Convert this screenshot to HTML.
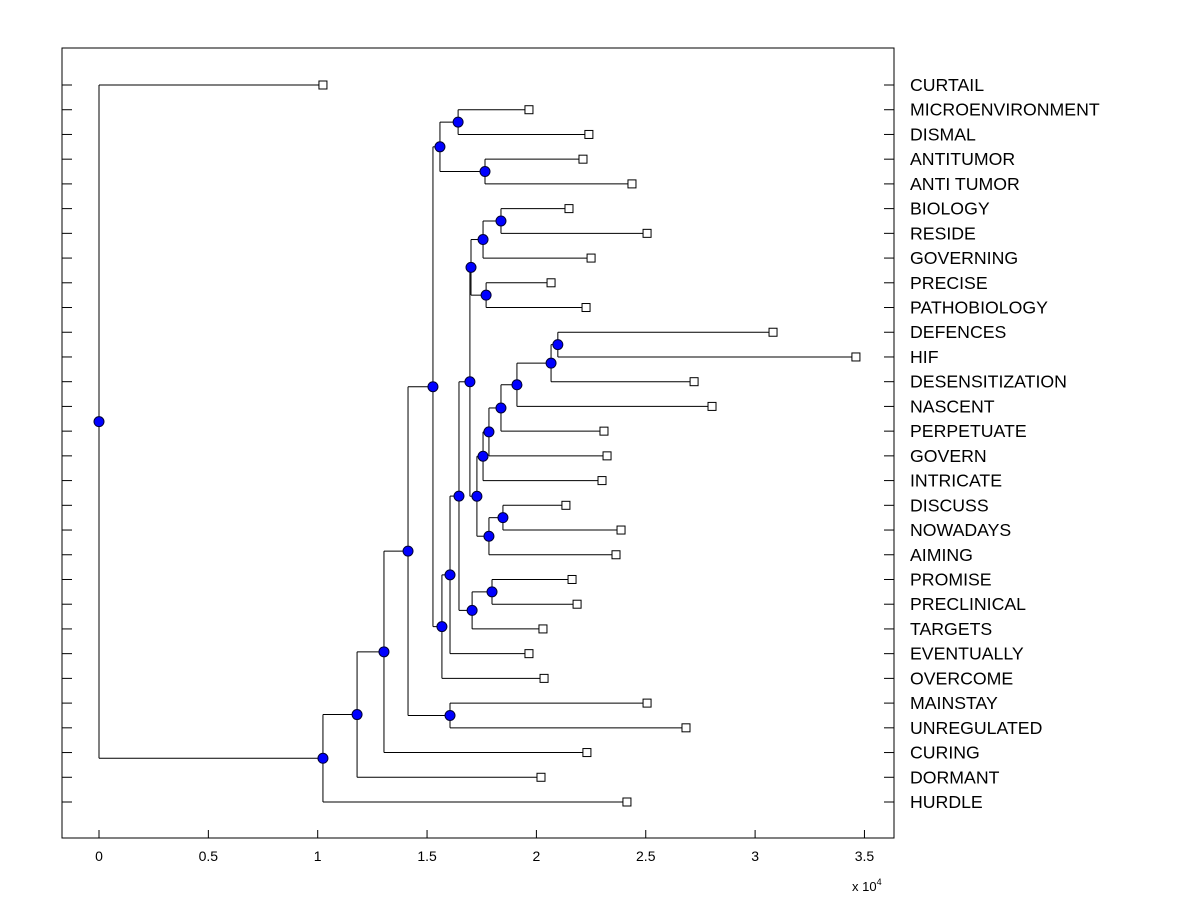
<!DOCTYPE html>
<html><head><meta charset="utf-8"><style>
body{margin:0;background:#fff;}
svg{display:block;font-family:"Liberation Sans",Arial,sans-serif;}
</style></head><body>
<svg id="chart" width="1200" height="900" viewBox="0 0 1200 900">
<rect x="0" y="0" width="1200" height="900" fill="#fff"/>
<rect x="62" y="48" width="832" height="790" fill="none" stroke="#000" stroke-width="1"/>
<g id="g-lines"></g>
<g id="g-marks"></g>
<g id="g-axis"></g>
<g id="g-labels"></g>
<text x="852" y="891" font-size="13">x 10<tspan dy="-6" font-size="9">4</tspan></text>
</svg>
<script>
const leafNames = ["CURTAIL","MICROENVIRONMENT","DISMAL","ANTITUMOR","ANTI TUMOR","BIOLOGY","RESIDE","GOVERNING","PRECISE","PATHOBIOLOGY","DEFENCES","HIF","DESENSITIZATION","NASCENT","PERPETUATE","GOVERN","INTRICATE","DISCUSS","NOWADAYS","AIMING","PROMISE","PRECLINICAL","TARGETS","EVENTUALLY","OVERCOME","MAINSTAY","UNREGULATED","CURING","DORMANT","HURDLE"];
const leafValues = [1.024,1.966,2.240,2.213,2.437,2.149,2.506,2.250,2.067,2.227,3.082,3.461,2.721,2.803,2.309,2.323,2.300,2.135,2.387,2.364,2.163,2.186,2.030,1.966,2.035,2.506,2.684,2.231,2.021,2.414];
const mergeA = ["L1","L3","N0","L5","N3","L8","N4","L10","N7","N8","N9","N10","N11","L17","N13","N12","N6","L20","N17","N16","N19","N20","N2","L25","N22","N24","L28","N26","L0"];
const mergeB = ["L2","L4","N1","L6","L7","L9","N5","L11","L12","L13","L14","L15","L16","L18","L19","N14","N15","L21","L22","N18","L23","L24","N21","L26","N23","L27","N25","L29","N27"];
const mergeHeights = [1.642,1.765,1.559,1.838,1.756,1.770,1.701,2.098,2.067,1.911,1.838,1.783,1.756,1.847,1.783,1.728,1.696,1.797,1.706,1.646,1.605,1.568,1.527,1.605,1.413,1.303,1.180,1.024,0];
const xTicks = [0,0.5,1,1.5,2,2.5,3,3.5];
const xTickLabels = ["0","0.5","1","1.5","2","2.5","3","3.5"];

const NS="http://www.w3.org/2000/svg";
const X = v => 99 + v*218.7;
const Y = i => 85 + i*(717/29);
function mk(tag, attrs, parent){const e=document.createElementNS(NS,tag);for(const k in attrs)e.setAttribute(k,attrs[k]);parent.appendChild(e);return e;}
const gL=document.getElementById('g-lines'), gM=document.getElementById('g-marks'), gA=document.getElementById('g-axis'), gT=document.getElementById('g-labels');

leafNames.forEach((n,i)=>{
  const y=Y(i);
  const t1=mk('line',{x1:62,x2:72,y1:y,y2:y,stroke:'#000'},gA);
  
  
  const t2=mk('line',{x1:884,x2:894,y1:y,y2:y,stroke:'#000'},gA);
  
  
  const tx=mk('text',{x:910,y:y+6,'font-size':17.7},gT);
  tx.textContent=n;
  
  
});
xTicks.forEach((v,i)=>{
  const tk=mk('line',{x1:X(v),x2:X(v),y1:838,y2:830,stroke:'#000'},gA);
  
  
  const tt=mk('text',{x:X(v),y:861,'font-size':14,'text-anchor':'middle'},gA);
  tt.textContent=xTickLabels[i];
  
  
});

const pos={};
leafValues.forEach((v,i)=>{pos['L'+i]={x:X(v),y:Y(i)};});
mergeHeights.forEach((h,i)=>{
  const a=pos[mergeA[i]], b=pos[mergeB[i]], x=X(h);
  pos['N'+i]={x:x,y:(a.y+b.y)/2};
  [a,b].forEach(c=>{
    const hl=mk('line',{x1:x,x2:c.x,y1:c.y,y2:c.y,stroke:'#000','stroke-width':1},gL);
    
    
  });
  const vl=mk('line',{x1:x,x2:x,y1:a.y,y2:b.y,stroke:'#000','stroke-width':1},gL);
  
  
});
leafValues.forEach((v,i)=>{
  const p=pos['L'+i];
  const r=mk('rect',{x:p.x-4,y:p.y-4,width:8,height:8,fill:'#fff',stroke:'#000'},gM);
  
  
});
mergeHeights.forEach((h,i)=>{
  const p=pos['N'+i];
  const c=mk('circle',{cx:p.x,cy:p.y,r:5,fill:'#0000ff',stroke:'#000033','stroke-width':1},gM);
  
  
});
</script>
</body></html>
